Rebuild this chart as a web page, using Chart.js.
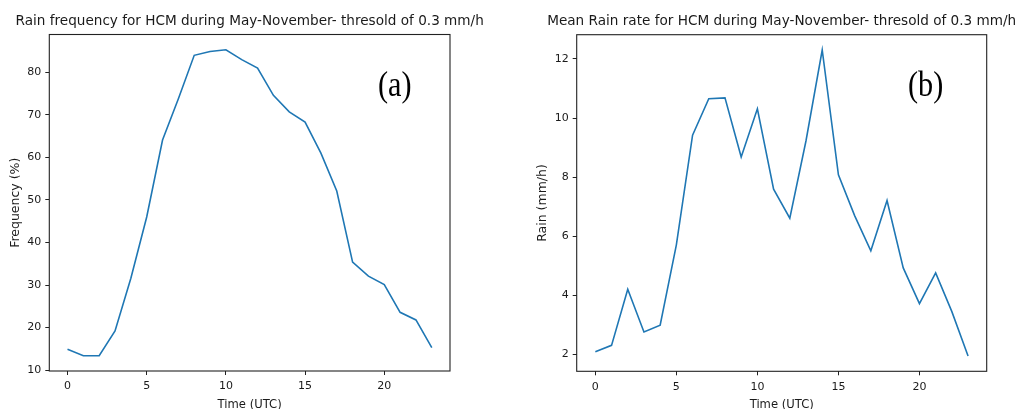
<!DOCTYPE html>
<html>
<head>
<meta charset="utf-8">
<script src="https://cdn.jsdelivr.net/npm/chart.js@4/dist/chart.umd.min.js"></script>
<style>
  html, body { margin: 0; padding: 0; background: #fff; }
  .panel { position: absolute; top: 0; width: 510px; height: 409px; }
</style>
</head>
<body>
<div class="panel" style="left:0"><canvas id="ca" width="510" height="409"></canvas></div>
<div class="panel" style="left:510px"><canvas id="cb" width="510" height="409"></canvas></div>
<script>
// ---- data ----
const hours = [0,1,2,3,4,5,6,7,8,9,10,11,12,13,14,15,16,17,18,19,20,21,22,23];
const rainFrequency = [14.9,13.4,13.4,19.2,31.6,46.0,64.1,73.8,84.0,84.9,85.3,83.0,81.0,74.6,70.7,68.3,61.0,52.1,35.4,32.1,30.1,23.6,21.8,15.3];
const meanRainRate = [2.09,2.31,4.21,2.76,2.99,5.71,9.42,10.65,10.68,8.68,10.31,7.59,6.61,9.23,12.30,8.08,6.70,5.51,7.21,4.93,3.72,4.76,3.45,1.95];
const xTickValues = [0,5,10,15,20];
const freqTickValues = [10,20,30,40,50,60,70,80];
const rainTickValues = [2,4,6,8,10,12];
const titleA = 'Rain frequency for HCM during May-November- thresold of 0.3 mm/h';
const titleB = 'Mean Rain rate for HCM during May-November- thresold of 0.3 mm/h';
const yLabelA = 'Frequency (%)';
const yLabelB = 'Rain (mm/h)';
const xLabel = 'Time (UTC)';
const panelA = '(a)';
const panelB = '(b)';

const TXT = '#1a1a1a';
const FONT = 'DejaVu Sans';

function margins(arr) {
  const lo = Math.min(...arr), hi = Math.max(...arr);
  const m = (hi - lo) * 0.05;
  return [lo - m, hi + m];
}

function makeChart(id, values, yTicks, yLabel, title, panel, geom) {
  const [xmin, xmax] = margins(hours);
  const [ymin, ymax] = margins(values);
  const deco = {
    id: 'deco',
    afterDraw(chart) {
      const ctx = chart.ctx, a = chart.chartArea;
      ctx.save();
      ctx.strokeStyle = '#222';
      ctx.lineWidth = 1.1;
      ctx.strokeRect(a.left, a.top, a.right - a.left, a.bottom - a.top);
      ctx.fillStyle = TXT;
      ctx.font = '13.6px "' + FONT + '"';
      ctx.textAlign = 'center';
      ctx.textBaseline = 'alphabetic';
      ctx.fillText(title, (a.left + a.right) / 2, geom.titleY);
      ctx.translate(geom.panelX, geom.panelY);
      ctx.scale(0.84, 1);
      ctx.font = '36px "Liberation Serif"';
      ctx.textAlign = 'left';
      ctx.fillStyle = '#000';
      ctx.fillText(panel, 0, 0);
      ctx.restore();
    }
  };
  return new Chart(document.getElementById(id), {
    type: 'line',
    data: {
      datasets: [{
        data: hours.map((h, i) => ({x: h, y: values[i]})),
        borderColor: '#1f77b4',
        borderWidth: 1.6,
        pointRadius: 0,
        tension: 0,
        fill: false
      }]
    },
    options: {
      responsive: false,
      animation: false,
      events: [],
      layout: { padding: { left: geom.padLeft, right: geom.padRight, top: geom.padTop, bottom: 0 } },
      plugins: { legend: { display: false }, tooltip: { enabled: false }, title: { display: false } },
      scales: {
        x: {
          type: 'linear', min: xmin, max: xmax,
          afterBuildTicks: s => { s.ticks = xTickValues.map(v => ({value: v})); },
          afterFit: s => { s.height = geom.xHeight; },
          ticks: { font: { family: FONT, size: 11 }, color: TXT, padding: 5, maxRotation: 0, autoSkip: false },
          grid: { display: true, drawOnChartArea: false, drawTicks: true, tickLength: 4, tickColor: '#222', color: '#222' },
          border: { display: false },
          title: { display: true, text: xLabel, font: { family: FONT, size: 11.6 }, color: TXT, padding: { top: 0, bottom: -3 } }
        },
        y: {
          type: 'linear', min: ymin, max: ymax,
          afterBuildTicks: s => { s.ticks = yTicks.map(v => ({value: v})); },
          afterFit: s => { s.width = geom.yWidth; },
          ticks: { font: { family: FONT, size: 11 }, color: TXT, padding: 4, autoSkip: false },
          grid: { display: true, drawOnChartArea: false, drawTicks: true, tickLength: 4, tickColor: '#222', color: '#222' },
          border: { display: false },
          title: { display: true, text: yLabel, font: { family: FONT, size: 12.5 }, color: TXT, padding: { top: 0, bottom: 0 } }
        }
      }
    },
    plugins: [deco]
  });
}

makeChart('ca', rainFrequency, freqTickValues, yLabelA, titleA, panelA,
  { padLeft: 8.5, padRight: 60, padTop: 34.5, yWidth: 40.8, xHeight: 38, titleY: 24.5, panelX: 378, panelY: 96 });
makeChart('cb', meanRainRate, rainTickValues, yLabelB, titleB, panelB,
  { padLeft: 25, padRight: 33.3, padTop: 34.7, yWidth: 41.7, xHeight: 37.7, titleY: 24.5, panelX: 398, panelY: 96 });
</script>
</body>
</html>
